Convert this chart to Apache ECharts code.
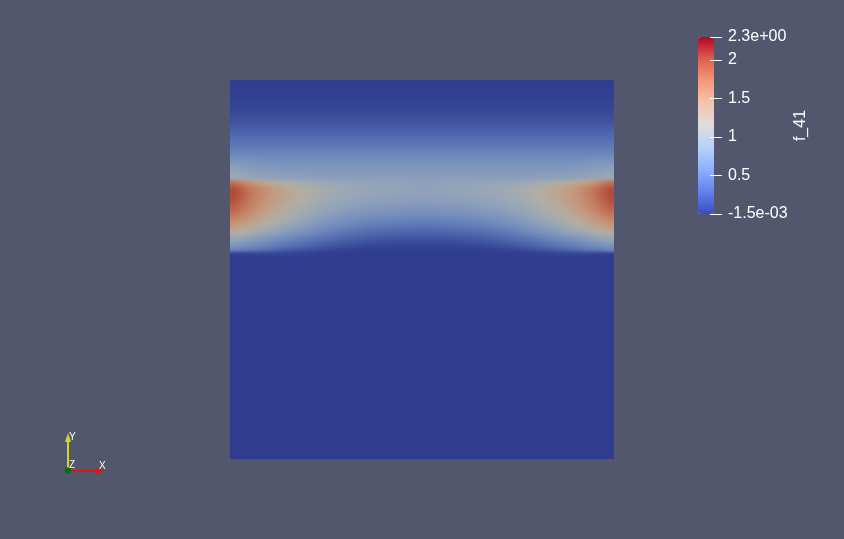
<!DOCTYPE html>
<html>
<head>
<meta charset="utf-8">
<script src="https://cdn.jsdelivr.net/npm/echarts@6/dist/echarts.min.js"></script>
<style>
html,body{margin:0;padding:0;background:#52576e;}
#chart{width:844px;height:539px;}
</style>
</head>
<body>
<div id="chart"></div>
<script>
// ---- data ----
const fieldName = 'f_41';
const rangeMin = -0.0015;
const rangeMax = 2.3;
// sample columns across the unit square (x from 0 to 1)
const nodeX = [0.0104,0.0313,0.0521,0.0729,0.0938,0.1146,0.1458,0.1875,0.2292,0.2708,0.3125,0.3542,0.3958,0.4375,0.4792,
               0.5208,0.5625,0.6042,0.6458,0.6875,0.7292,0.7708,0.8125,0.8542,0.8854,0.9063,0.9271,0.9479,0.9688,0.9896];
// sample rows (y from 1 at the top to 0 at the bottom)
const nodeY = [1,0.9472,0.9156,0.8945,0.8734,0.8522,0.8311,0.8100,0.7889,0.7678,0.7520,0.7414,0.7309,
               0.7150,0.6992,0.6834,0.6623,0.6412,0.6201,0.5989,0.5778,0.5620,0.5515,0.5409,0.5303,0];
const n00 = [0,0,0,0,0,0,0,0,0,0,0,0,0,0,0,0,0,0,0,0,0,0,0,0,0,0,0,0,0,0];
const n01 = [0.03,0.03,0.03,0.03,0.03,0.03,0.03,0.03,0.03,0.03,0.03,0.03,0.03,0.03,0.03,0.03,0.03,0.03,0.03,0.03,0.03,0.03,0.03,0.03,0.03,0.03,0.03,0.03,0.03,0.03];
const n02 = [0.08,0.08,0.08,0.08,0.08,0.08,0.08,0.08,0.08,0.08,0.08,0.08,0.08,0.08,0.08,0.08,0.08,0.08,0.08,0.08,0.08,0.08,0.08,0.08,0.08,0.08,0.08,0.08,0.08,0.08];
const n03 = [0.14,0.14,0.14,0.14,0.14,0.14,0.14,0.14,0.14,0.14,0.14,0.14,0.14,0.14,0.14,0.14,0.14,0.14,0.14,0.14,0.14,0.14,0.14,0.14,0.14,0.14,0.14,0.14,0.14,0.14];
const n04 = [0.22,0.22,0.22,0.22,0.22,0.22,0.22,0.22,0.22,0.22,0.22,0.22,0.22,0.22,0.22,0.22,0.22,0.22,0.22,0.22,0.22,0.22,0.22,0.22,0.22,0.22,0.22,0.22,0.22,0.22];
const n05 = [0.31,0.31,0.31,0.31,0.31,0.31,0.31,0.31,0.31,0.31,0.31,0.31,0.31,0.31,0.31,0.31,0.31,0.31,0.31,0.31,0.31,0.31,0.31,0.31,0.31,0.31,0.31,0.31,0.31,0.31];
const n06 = [0.41,0.41,0.41,0.41,0.41,0.41,0.41,0.41,0.41,0.41,0.41,0.41,0.41,0.41,0.41,0.41,0.41,0.41,0.41,0.41,0.41,0.41,0.41,0.41,0.41,0.41,0.41,0.41,0.41,0.41];
const n07 = [0.51,0.51,0.51,0.51,0.51,0.51,0.51,0.51,0.51,0.51,0.51,0.51,0.51,0.51,0.51,0.51,0.51,0.51,0.51,0.51,0.51,0.51,0.51,0.51,0.51,0.51,0.51,0.51,0.51,0.51];
const n08 = [0.66,0.65,0.64,0.63,0.62,0.61,0.61,0.61,0.61,0.61,0.61,0.61,0.61,0.61,0.61,0.61,0.61,0.61,0.61,0.61,0.61,0.61,0.61,0.61,0.61,0.62,0.63,0.64,0.65,0.66];
const n09 = [0.80,0.78,0.76,0.74,0.73,0.72,0.71,0.70,0.70,0.70,0.70,0.70,0.70,0.70,0.70,0.70,0.70,0.70,0.70,0.70,0.70,0.70,0.70,0.71,0.72,0.73,0.74,0.76,0.78,0.80];
const n10 = [0.90,0.87,0.84,0.82,0.80,0.79,0.78,0.77,0.76,0.76,0.76,0.76,0.76,0.76,0.76,0.76,0.76,0.76,0.76,0.76,0.76,0.76,0.77,0.78,0.79,0.80,0.82,0.84,0.87,0.90];
const n11 = [0.96,0.93,0.90,0.87,0.85,0.84,0.83,0.81,0.80,0.79,0.79,0.79,0.79,0.79,0.79,0.79,0.79,0.79,0.79,0.79,0.79,0.80,0.81,0.83,0.84,0.85,0.87,0.90,0.93,0.96];
const n12 = [1.75,1.62,1.48,1.37,1.27,1.19,1.10,1.01,0.95,0.90,0.87,0.85,0.84,0.83,0.82,0.82,0.83,0.84,0.85,0.87,0.90,0.95,1.01,1.10,1.19,1.27,1.37,1.48,1.62,1.75];
const n13 = [1.98,1.86,1.72,1.60,1.50,1.41,1.30,1.17,1.06,0.98,0.93,0.89,0.87,0.85,0.84,0.84,0.85,0.87,0.89,0.93,0.98,1.06,1.17,1.30,1.41,1.50,1.60,1.72,1.86,1.98];
const n14 = [2.02,1.90,1.76,1.63,1.53,1.43,1.32,1.18,1.07,0.98,0.92,0.88,0.86,0.84,0.83,0.83,0.84,0.86,0.88,0.92,0.98,1.07,1.18,1.32,1.43,1.53,1.63,1.76,1.90,2.02];
const n15 = [1.98,1.86,1.72,1.60,1.50,1.41,1.29,1.14,1.03,0.94,0.88,0.84,0.81,0.80,0.79,0.79,0.80,0.81,0.84,0.88,0.94,1.03,1.14,1.29,1.41,1.50,1.60,1.72,1.86,1.98];
const n16 = [1.88,1.77,1.65,1.53,1.43,1.33,1.21,1.06,0.95,0.86,0.79,0.75,0.72,0.70,0.69,0.69,0.70,0.72,0.75,0.79,0.86,0.95,1.06,1.21,1.33,1.43,1.53,1.65,1.77,1.88];
const n17 = [1.72,1.62,1.51,1.41,1.31,1.22,1.10,0.96,0.84,0.75,0.68,0.63,0.60,0.58,0.57,0.57,0.58,0.60,0.63,0.68,0.75,0.84,0.96,1.10,1.22,1.31,1.41,1.51,1.62,1.72];
const n18 = [1.50,1.42,1.33,1.24,1.15,1.07,0.95,0.82,0.71,0.62,0.55,0.50,0.47,0.44,0.43,0.43,0.44,0.47,0.50,0.55,0.62,0.71,0.82,0.95,1.07,1.15,1.24,1.33,1.42,1.50];
const n19 = [1.22,1.15,1.08,1.00,0.93,0.86,0.76,0.65,0.55,0.46,0.39,0.34,0.31,0.29,0.28,0.28,0.29,0.31,0.34,0.39,0.46,0.55,0.65,0.76,0.86,0.93,1.00,1.08,1.15,1.22];
const n20 = [0.85,0.80,0.75,0.70,0.65,0.60,0.53,0.44,0.36,0.29,0.23,0.18,0.15,0.14,0.13,0.13,0.14,0.15,0.18,0.23,0.29,0.36,0.44,0.53,0.60,0.65,0.70,0.75,0.80,0.85];
const n21 = [0.66,0.62,0.58,0.54,0.50,0.45,0.38,0.30,0.22,0.16,0.11,0.07,0.05,0.04,0.04,0.04,0.04,0.05,0.07,0.11,0.16,0.22,0.30,0.38,0.45,0.50,0.54,0.58,0.62,0.66];
const n22 = [0.50,0.45,0.41,0.37,0.33,0.28,0.22,0.15,0.10,0.06,0.03,0.02,0.01,0.01,0.01,0.01,0.01,0.01,0.02,0.03,0.06,0.10,0.15,0.22,0.28,0.33,0.37,0.41,0.45,0.50];
const n23 = [0.02,0.03,0.04,0.05,0.05,0.05,0.05,0.03,0.02,0.01,0.01,0,0,0,0,0,0,0,0,0.01,0.01,0.02,0.03,0.05,0.05,0.05,0.05,0.04,0.03,0.02];
const n24 = [0,0,0,0,0,0,0,0,0,0,0,0,0,0,0,0,0,0,0,0,0,0,0,0,0,0,0,0,0,0];
const n25 = [0,0,0,0,0,0,0,0,0,0,0,0,0,0,0,0,0,0,0,0,0,0,0,0,0,0,0,0,0,0];
const nodeRows = [n00,n01,n02,n03,n04,n05,n06,n07,n08,n09,n10,n11,n12,
                  n13,n14,n15,n16,n17,n18,n19,n20,n21,n22,n23,n24,n25];
const colorbarTicks = [-0.0015, 0.5, 1, 1.5, 2, 2.3];
const colorbarTickLabels = ['-1.5e-03', '0.5', '1', '1.5', '2', '2.3e+00'];

// ---- build: one item per sample node ----
const nCols = nodeX.length;
const nRows = nodeY.length;
const items = [];
nodeRows.forEach((row, r) => {
  row.forEach((v, c) => items.push([nodeX[c], nodeY[r], v]));
});

// Cool-to-warm colour map (colour bar) and its lit appearance on the surface
const coolWarm = ['#3b4cc0','#6282ea','#8db0fe','#b8d0f9','#dddddd','#f5c4ad','#f49a7b','#de604d','#b40426'];
const coolWarmLit = ['#2f3c8f','#4e67ae','#718bbd','#93a4ba','#b1afa5','#c49b81','#c37a5c','#b24c39','#90031c'];

const chart = echarts.init(document.getElementById('chart'), null, {renderer: 'canvas'});
const fontFamily = '"Liberation Sans", Arial, sans-serif';

// Gouraud-style shading between neighbouring sample nodes (colours come from the visualMap)
function renderNode(params, api) {
  const idx = params.dataIndexInside;
  const r = Math.floor(idx / nCols), c = idx % nCols;
  if (r >= nRows - 1) return null;
  const yTop = Math.round(api.coord([0, api.value(1)])[1]);
  const yBot = Math.round(api.coord([0, api.value(1, idx + nCols)])[1]);
  if (yBot <= yTop) return null;
  const cTL = api.visual('color', idx);
  const cBL = api.visual('color', idx + nCols);
  const children = [];
  const strip = (xa, xb, top, bot) => {
    if (xb <= xa) return;
    children.push({
      type: 'rect',
      shape: {x: xa, y: yTop, width: xb - xa, height: yBot - yTop},
      style: {fill: new echarts.graphic.LinearGradient(0, 0, 0, 1, [
        {offset: 0, color: top}, {offset: 1, color: bot}])}
    });
  };
  const xHere = api.coord([api.value(0), 0])[0];
  if (c === 0) {
    strip(Math.round(api.coord([0, 0])[0]), Math.round(xHere), cTL, cBL);
  }
  if (c === nCols - 1) {
    strip(Math.round(xHere), Math.round(api.coord([1, 0])[0]), cTL, cBL);
  } else {
    const xNext = api.coord([api.value(0, idx + 1), 0])[0];
    const cTR = api.visual('color', idx + 1);
    const cBR = api.visual('color', idx + nCols + 1);
    const a = Math.round(xHere), b = Math.round(xNext);
    for (let s = a; s < b; s += 2) {
      const e = Math.min(s + 2, b);
      const t = ((s + e) / 2 - xHere) / (xNext - xHere);
      strip(s, e, echarts.color.lerp(t, [cTL, cTR]), echarts.color.lerp(t, [cBL, cBR]));
    }
  }
  return {type: 'group', children: children};
}

chart.setOption({
  backgroundColor: '#52576e',
  animation: false,
  textStyle: {fontFamily: fontFamily},
  grid: [
    {left: 230, top: 80, width: 384, height: 379, show: false},
    {left: 710, top: 37, width: 12, height: 177, show: false}
  ],
  xAxis: [
    {gridIndex: 0, type: 'value', min: 0, max: 1, show: false},
    {gridIndex: 1, type: 'value', min: 0, max: 1, show: false}
  ],
  yAxis: [
    {gridIndex: 0, type: 'value', min: 0, max: 1, show: false},
    {
      gridIndex: 1, type: 'value', min: rangeMin, max: rangeMax, position: 'right', z: 20,
      axisLine: {show: false}, splitLine: {show: false},
      axisTick: {show: true, inside: false, length: 12, customValues: colorbarTicks,
                 lineStyle: {color: '#ffffff', width: 1}},
      axisLabel: {show: true, customValues: colorbarTicks, color: '#ffffff', fontSize: 16,
                  margin: 6, fontFamily: fontFamily,
                  formatter: function (v) {
                    const i = colorbarTicks.findIndex(t => Math.abs(t - v) < 1e-9);
                    return i >= 0 ? colorbarTickLabels[i] : '';
                  }},
      name: fieldName, nameLocation: 'middle', nameRotate: 90, nameGap: 71,
      nameTextStyle: {color: '#ffffff', fontSize: 16, fontFamily: fontFamily}
    }
  ],
  visualMap: [
    {
      type: 'continuous', show: false, seriesIndex: 0, dimension: 2,
      min: rangeMin, max: rangeMax, inRange: {color: coolWarmLit}
    },
    {
      type: 'continuous', show: true, seriesIndex: 1, dimension: 1,
      min: rangeMin, max: rangeMax, calculable: false, realtime: false,
      left: 698, top: 37, itemWidth: 16, itemHeight: 177, padding: 0,
      text: null, showLabel: false, hoverLink: false,
      inRange: {color: coolWarm}, z: 2
    }
  ],
  series: [
    {
      type: 'custom', xAxisIndex: 0, yAxisIndex: 0, silent: true, clip: true,
      dimensions: ['x', 'y', 'value'],
      encode: {x: 0, y: 1},
      data: items,
      renderItem: renderNode
    },
    {
      type: 'line', xAxisIndex: 1, yAxisIndex: 1, data: [], silent: true
    }
  ],
  graphic: [
    // orientation triad
    {type: 'line', shape: {x1: 68, y1: 470, x2: 68, y2: 441}, style: {stroke: '#d6d622', lineWidth: 2}, z: 10},
    {type: 'polygon', shape: {points: [[68, 433], [65, 442], [71, 442]]}, style: {fill: '#d6d622'}, z: 10},
    {type: 'line', shape: {x1: 68, y1: 471, x2: 97, y2: 471}, style: {stroke: '#d81818', lineWidth: 2}, z: 10},
    {type: 'polygon', shape: {points: [[105, 471], [96, 468], [96, 474]]}, style: {fill: '#d81818'}, z: 10},
    {type: 'circle', shape: {cx: 68, cy: 470.5, r: 3.2}, style: {fill: '#0d6a14'}, z: 11},
    {type: 'text', style: {text: 'Y', x: 69, y: 432, fill: '#ffffff', font: '10px "Liberation Sans", Arial, sans-serif'}, z: 12},
    {type: 'text', style: {text: 'Z', x: 69, y: 460, fill: '#ffffff', font: '10px "Liberation Sans", Arial, sans-serif'}, z: 12},
    {type: 'text', style: {text: 'X', x: 99, y: 461, fill: '#ffffff', font: '10px "Liberation Sans", Arial, sans-serif'}, z: 12}
  ]
});
</script>
</body>
</html>
